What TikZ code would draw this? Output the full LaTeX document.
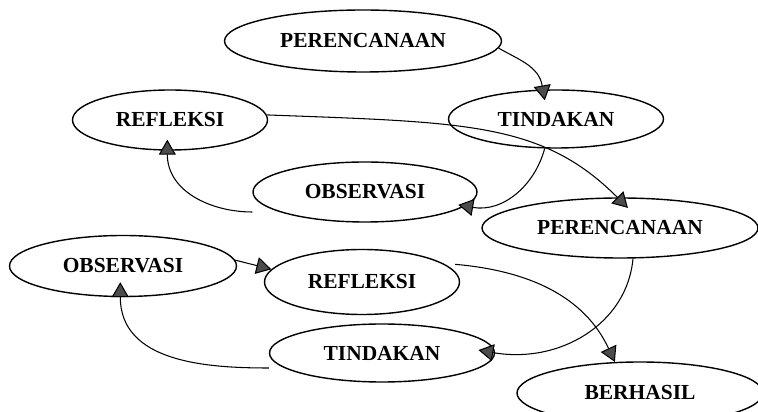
\documentclass[tikz,border=0pt]{standalone}
\usepackage{fontspec}
\setmainfont{Liberation Serif}
\usetikzlibrary{shapes,arrows.meta,positioning}

\begin{document}
\begin{tikzpicture}[
    node distance=1.5cm,
    stage/.style={ellipse, draw=black, line width=0.8pt, inner sep=0pt, align=center, font=\fontsize{12.2}{14}\selectfont\bfseries},
    arrow/.style={-{Triangle[length=0.3cm, width=0.34cm, fill=black!70]}, line width=0.6pt}
]
\useasboundingbox (0,0) rectangle (15.16,-8.24);

% Cycle 1
\node[stage, minimum width=5.54cm, minimum height=1.24cm] (per1) at (7.26,-0.82) {PERENCANAAN};
\node[stage, minimum width=4.30cm, minimum height=1.16cm, below of=per1, xshift=3.86cm, yshift=-0.06cm] (tin1) {TINDAKAN};
\node[stage, minimum width=3.90cm, minimum height=1.20cm, below of=per1, xshift=-3.86cm, yshift=-0.08cm] (ref1) {REFLEKSI};
\node[stage, minimum width=4.48cm, minimum height=1.20cm, below of=ref1, xshift=3.90cm, yshift=0.06cm] (obs1) {OBSERVASI};

% Cycle 2
\node[stage, minimum width=5.52cm, minimum height=1.20cm, below of=tin1, xshift=1.28cm, yshift=-0.68cm] (per2) {PERENCANAAN};
\node[stage, minimum width=4.54cm, minimum height=1.22cm, below of=ref1, xshift=-0.94cm, yshift=-1.42cm] (obs2) {OBSERVASI};
\node[stage, minimum width=3.90cm, minimum height=1.30cm, below of=obs1, xshift=-0.06cm, yshift=-0.30cm] (ref2) {REFLEKSI};
\node[stage, minimum width=4.50cm, minimum height=1.16cm, below of=ref2, xshift=0.40cm, yshift=0.08cm] (tin2) {TINDAKAN};
\node[stage, minimum width=4.92cm, minimum height=1.24cm, below of=per2, xshift=0.40cm, yshift=-1.80cm] (ber) {BERHASIL};

% Connections
\draw[arrow, shorten >=-0.22cm] (per1.-3) to[out=-30, in=100] (tin1.114);
\draw[arrow, shorten >=-0.14cm] (tin1.-111) to[out=-105, in=-10] (obs1.-8);
\draw[arrow, shorten >=-0.22cm] ([yshift=-0.4cm]obs1.west) to[out=180, in=-90] (ref1.-95);
\draw[arrow, shorten >=-0.3cm] (ref1.3) .. controls +(4.0,-0.15) and +(-1.5,1.5) .. (per2.95);

\draw[arrow, shorten >=-0.34cm] (per2.-67) to[out=-95, in=-10] (tin2.east);
\draw[arrow, shorten >=-0.3cm] ([yshift=-0.3cm]tin2.west) to[out=180, in=-90] (obs2.-95);
\draw[arrow] (obs2.3) -- (ref2.172);
\draw[arrow] ([xshift=0.2cm]ref2.12) to[out=-5, in=115] (ber.129);

\end{tikzpicture}
\end{document}
